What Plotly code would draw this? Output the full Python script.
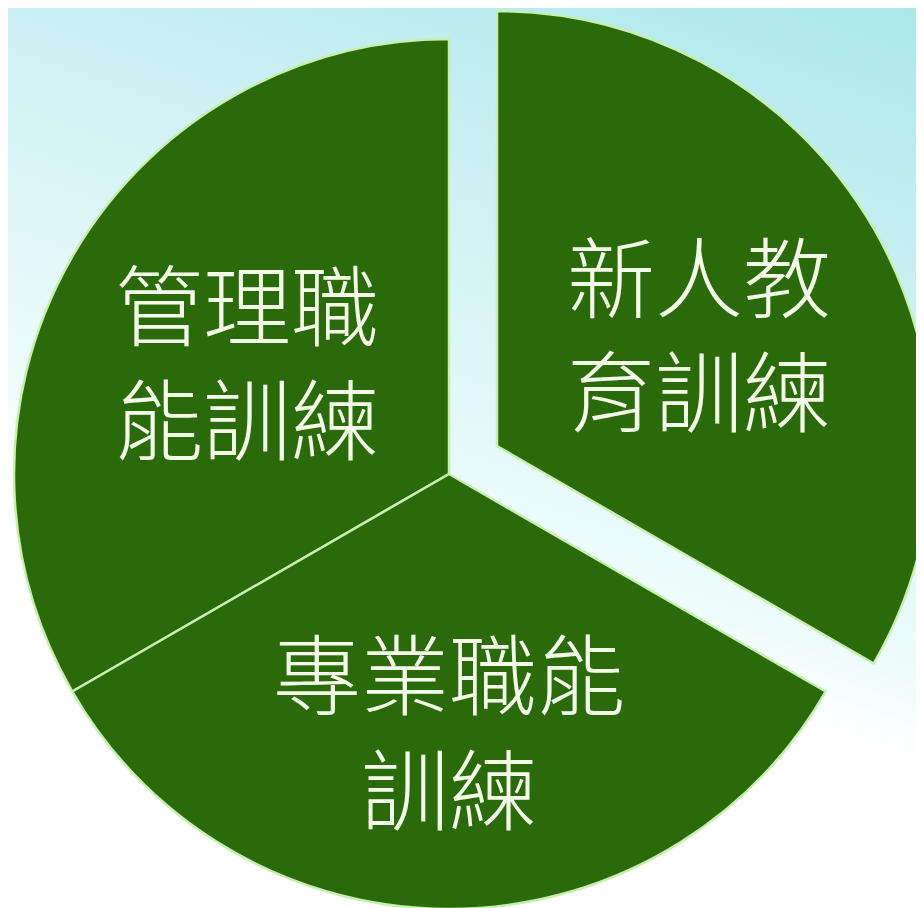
import base64
import plotly.graph_objects as go

# ---- data (counter-clockwise order starting from the lower-right edge) ----
labels = ["新人教育訓練", "管理職能訓練", "專業職能訓練"]
label_text = ["新人教<br>育訓練", "管理職<br>能訓練", "專業職能<br>訓練"]
values = [1, 1, 1]
exploded = [True, False, False]

# ---- style ----
GREEN = "#2b6a0b"
EDGE = "#c8efb2"
CLEAR = "rgba(0,0,0,0)"
TEXT = "#f3fbe8"
FONT = "Noto Sans CJK TC"

W, H = 924, 908

svg = f'''<svg xmlns="http://www.w3.org/2000/svg" width="{W}" height="{H}" viewBox="0 0 {W} {H}" preserveAspectRatio="none">
<defs><linearGradient id="g" x1="1" y1="0" x2="0.75" y2="0.75">
<stop offset="0" stop-color="#abe8eb"/>
<stop offset="0.4" stop-color="#cbf0f3"/>
<stop offset="0.55" stop-color="#d6f4f6"/>
<stop offset="0.9" stop-color="#f0fcfc"/>
<stop offset="1" stop-color="#ffffff"/>
</linearGradient></defs>
<rect x="0" y="0" width="{W}" height="{H}" fill="url(#g)"/>
</svg>'''
bg_uri = "data:image/svg+xml;base64," + base64.b64encode(svg.encode("utf-8")).decode("ascii")


def pie_trace(show_exploded, domain_x, domain_y):
    visible = [e == show_exploded for e in exploded]
    return go.Pie(
        labels=labels,
        values=values,
        text=[t if v else "" for t, v in zip(label_text, visible)],
        textinfo="text",
        textposition="inside",
        insidetextorientation="horizontal",
        textfont=dict(family=FONT, size=88, color=TEXT, weight=300),
        marker=dict(
            colors=[GREEN if v else CLEAR for v in visible],
            line=dict(color=[EDGE if v else CLEAR for v in visible], width=2.5),
        ),
        sort=False,
        direction="counterclockwise",
        rotation=0,
        hoverinfo="skip",
        showlegend=False,
        domain=dict(x=domain_x, y=domain_y),
    )


fig = go.Figure()
# main pie (two slices)
fig.add_trace(pie_trace(False, [6 / W, 876 / W], [7 / H, 877 / H]))
# exploded slice
fig.add_trace(pie_trace(True, [54 / W, 1.0], [35 / H, 905 / H]))

fig.update_layout(
    width=W,
    height=H,
    margin=dict(l=0, r=0, t=0, b=0),
    paper_bgcolor="#ffffff",
    plot_bgcolor="rgba(0,0,0,0)",
    images=[dict(source=bg_uri, xref="paper", yref="paper", x=0, y=1,
                 sizex=1, sizey=1, sizing="stretch", layer="below",
                 xanchor="left", yanchor="top")],
)

fig.write_html("out.html")
